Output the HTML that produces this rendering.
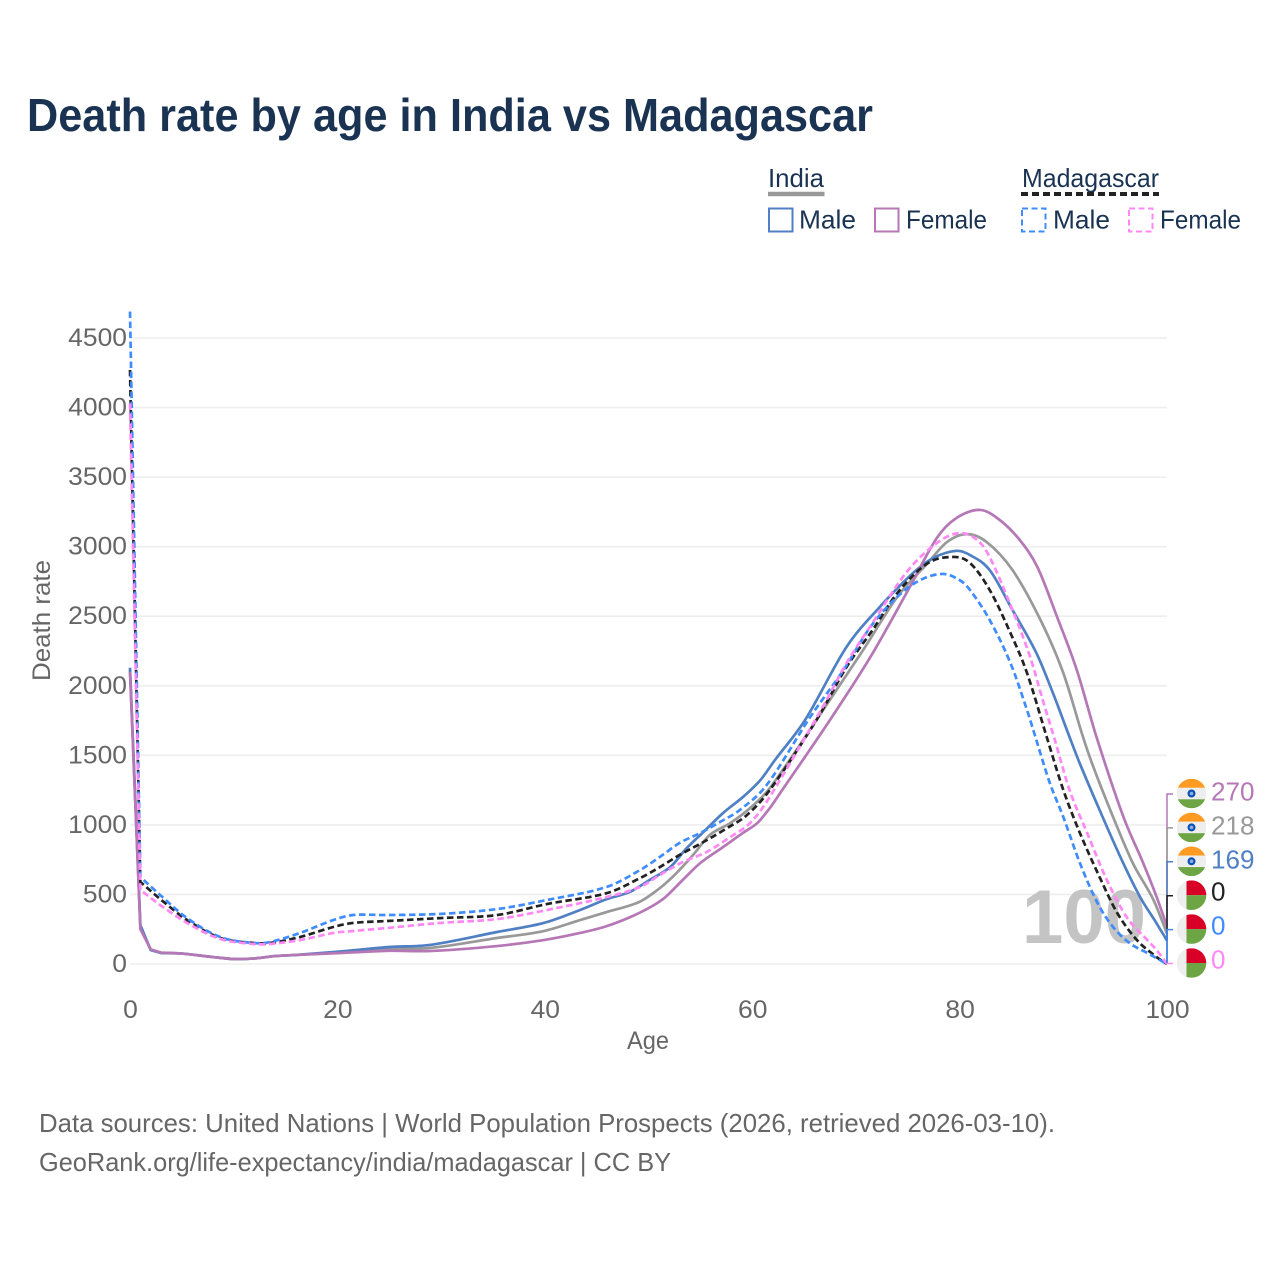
<!DOCTYPE html>
<html lang="en">
<head>
<meta charset="utf-8">
<title>Death rate by age in India vs Madagascar</title>
<style>
html,body{margin:0;padding:0;background:#fff;}
svg{display:block;font-family:"Liberation Sans",sans-serif;}
</style>
</head>
<body>
<svg id="chart" xmlns="http://www.w3.org/2000/svg" width="1280" height="1280" viewBox="0 0 1280 1280">
  <rect x="0" y="0" width="1280" height="1280" fill="#ffffff"/>
  <text x="27" y="131" font-size="46" font-weight="700" fill="#1a3353" textLength="846" lengthAdjust="spacingAndGlyphs">Death rate by age in India vs Madagascar</text>

  <g font-size="26" fill="#1a3353">
    <text x="768" y="187" textLength="56" lengthAdjust="spacingAndGlyphs">India</text>
    <line x1="768" x2="824.5" y1="194" y2="194" stroke="#999999" stroke-width="4.5"/>
    <text x="1022" y="187" textLength="137" lengthAdjust="spacingAndGlyphs">Madagascar</text>
    <line x1="1021" x2="1159" y1="194" y2="194" stroke="#222222" stroke-width="4" stroke-dasharray="7 4"/>
    <rect x="769" y="208.5" width="23.5" height="23" fill="none" stroke="#5080c4" stroke-width="2"/>
    <text x="799" y="228.5" textLength="57" lengthAdjust="spacingAndGlyphs">Male</text>
    <rect x="875" y="208.5" width="23.5" height="23" fill="none" stroke="#b577b5" stroke-width="2"/>
    <text x="906" y="228.5" textLength="81" lengthAdjust="spacingAndGlyphs">Female</text>
    <rect x="1022" y="208.5" width="23.5" height="23" fill="none" stroke="#3f8cff" stroke-width="2" stroke-dasharray="6 3.5"/>
    <text x="1053" y="228.5" textLength="57" lengthAdjust="spacingAndGlyphs">Male</text>
    <rect x="1129" y="208.5" width="23.5" height="23" fill="none" stroke="#ff88f5" stroke-width="2" stroke-dasharray="6 3.5"/>
    <text x="1160" y="228.5" textLength="81" lengthAdjust="spacingAndGlyphs">Female</text>
  </g>

  <g id="grid"></g>
  <g id="yticks"></g>
  <g id="xticks"></g>
  <text x="648" y="1049" font-size="25" fill="#666666" text-anchor="middle" textLength="42" lengthAdjust="spacingAndGlyphs">Age</text>
  <text transform="translate(50 620.5) rotate(-90)" font-size="25" fill="#666666" text-anchor="middle" textLength="121" lengthAdjust="spacingAndGlyphs">Death rate</text>
  <text x="1022" y="943" font-size="76" font-weight="700" fill="#c4c4c4" textLength="124" lengthAdjust="spacingAndGlyphs">100</text>

  <g id="series"></g>
  <g id="connectors"></g>
  <g id="endlabels"></g>

  <g font-size="26" fill="#666666">
    <text x="39" y="1132" textLength="1016" lengthAdjust="spacingAndGlyphs">Data sources: United Nations | World Population Prospects (2026, retrieved 2026-03-10).</text>
    <text x="39" y="1171" textLength="632" lengthAdjust="spacingAndGlyphs">GeoRank.org/life-expectancy/india/madagascar | CC BY</text>
  </g>
</svg>
<script>
var yTickLabels = [0, 500, 1000, 1500, 2000, 2500, 3000, 3500, 4000, 4500];
var xTickLabels = [0, 20, 40, 60, 80, 100];

var indiaBothAges = [0,1,2,3,5,8,10,12,14,16,20,25,28.9,35.4,39.9,43.4,46,49.1,51.1,52.7,54.3,55.9,57.9,59.8,61.7,66.2,70.7,74,76.9,78.8,80.7,82.6,85.1,87.8,90,91.9,92.9,94.8,96.7,98.7,100];
var indiaBothValues = [2115,265,100,79,75,50,36,40,57,65,82,108,115,187,237,316,374,446,546,654,784,927,1014,1121,1265,1754,2257,2640,2880,3034,3090,3034,2832,2473,2092,1632,1416,1057,726,460,218];

var indiaMaleAges = [0,1,2,3,5,8,10,12,14,16,20,25,28.9,35.4,39.9,43.4,46,48.2,50.1,52.1,53.7,55.3,57.2,59.1,60.8,62.2,65.1,69.1,72.3,75.5,77.5,79.7,81,82.9,85.1,87.4,89,90.6,91.6,93.5,95.5,97.4,98.8,100];
var indiaMaleValues = [2130,280,100,79,75,50,36,40,57,65,88,122,137,230,295,388,467,518,604,697,834,949,1086,1200,1323,1467,1754,2280,2566,2810,2920,2970,2940,2832,2545,2236,1948,1632,1440,1107,770,482,316,169];

var indiaFemaleAges = [0,1,2,3,5,8,10,12,14,16,20,25,28.9,35.4,39.9,43.4,46,49.1,51.4,53.3,55,57.2,59.1,60.5,61.7,62.7,67.5,71.4,75.2,77.8,79.7,82,83.9,85.8,87.5,89.4,91.3,93.2,95.8,97.7,99,100];
var indiaFemaleValues = [2100,250,105,82,75,50,36,40,57,65,78,95,93,129,172,223,273,367,467,604,726,841,942,1014,1121,1229,1754,2207,2710,3062,3206,3264,3190,3048,2854,2495,2114,1632,1057,726,482,270];

var madagascarBothAges = [0,1,2.9,5.5,8.7,11.9,13.5,16.4,19.6,21.5,24.8,29.9,35.4,40.2,46,49.2,51.1,53,55.3,57.6,59.5,61.7,66.2,69.1,71.6,74,76.9,79.4,81,82.9,84.9,86.5,88.4,90,91.6,93.5,95.2,97.1,99,100];
var madagascarBothValues = [4270,590,467,316,187,151,151,194,266,295,309,330,352,431,510,618,697,784,877,978,1071,1251,1754,2135,2400,2667,2880,2926,2883,2689,2380,2092,1632,1251,942,625,367,172,50,0];

var madagascarMaleAges = [0,1,2.9,5.5,8.7,11.9,13.5,16.4,19.6,21.5,24.8,29.9,35.4,40.2,46,49.2,51.1,53,55,56.9,58.8,61.4,65.6,68.8,71.4,74,76.2,78.4,80,81,82.9,84.9,86.5,87.4,88.7,90,91.6,93.3,94.8,96.4,98.1,100];
var madagascarMaleValues = [4690,625,496,330,194,151,158,223,316,352,352,360,395,460,555,676,770,870,942,1021,1107,1287,1776,2113,2423,2640,2760,2804,2760,2689,2473,2164,1826,1610,1301,1057,726,438,266,150,79,0];

var madagascarFemaleAges = [0,1,2.9,5.5,8.7,11.9,13.5,16.4,19.6,21.5,24.8,29.9,35.4,40.2,46,49.2,51.1,53.3,55.6,57.9,59.8,61.5,66.8,69.1,71.6,74.9,77.8,80,81.7,82.9,85.1,86.8,88.1,89.1,90.6,92.3,94.2,96.1,98.1,99,100];
var madagascarFemaleValues = [4030,532,424,295,180,144,144,172,223,237,259,295,323,388,482,554,640,733,805,913,1014,1179,1848,2164,2451,2818,3026,3098,3048,2926,2545,2207,1876,1632,1251,942,604,338,172,100,0];

var endLabelValues = [270, 218, 169, 0, 0, 0];

var NS = 'http://www.w3.org/2000/svg';
function xScale(a) { return 130 + a * 10.37; }
function yScale(v) { return 964 - v * 0.13911; }
function make(tag, parent) {
  var el = document.createElementNS(NS, tag);
  parent.appendChild(el);
  return el;
}

/* straight through the infant spike, smooth cubic for later ages */
function curvePath(ages, values) {
  var n = ages.length, px = [], py = [], m = [], i;
  for (i = 0; i < n; i++) { px.push(xScale(ages[i])); py.push(yScale(values[i])); }
  for (i = 0; i < n; i++) {
    if (i === 0 || ages[i] <= 3) {
      m.push((py[i + 1] - py[i]) / (px[i + 1] - px[i]));
    } else if (i === n - 1) {
      m.push((py[i] - py[i - 1]) / (px[i] - px[i - 1]));
    } else {
      m.push((py[i + 1] - py[i - 1]) / (px[i + 1] - px[i - 1]));
    }
  }
  var path = 'M' + px[0].toFixed(2) + ' ' + py[0].toFixed(2);
  for (i = 0; i < n - 1; i++) {
    if (ages[i + 1] <= 3) {
      path += 'L' + px[i + 1].toFixed(2) + ' ' + py[i + 1].toFixed(2);
      continue;
    }
    var h = (px[i + 1] - px[i]) / 3;
    path += 'C' + (px[i] + h).toFixed(2) + ' ' + (py[i] + m[i] * h).toFixed(2) + ' ' +
      (px[i + 1] - h).toFixed(2) + ' ' + (py[i + 1] - m[i + 1] * h).toFixed(2) + ' ' +
      px[i + 1].toFixed(2) + ' ' + py[i + 1].toFixed(2);
  }
  return path;
}

var gridGroup = document.getElementById('grid');
var yTickGroup = document.getElementById('yticks');
yTickLabels.forEach(function (v) {
  var line = make('line', gridGroup);
  
  
  line.setAttribute('x1', 130);
  line.setAttribute('x2', 1167);
  line.setAttribute('y1', yScale(v));
  line.setAttribute('y2', yScale(v));
  line.setAttribute('stroke', '#eeeeee');
  line.setAttribute('stroke-width', 1.6);
  var t = make('text', yTickGroup);
  
  
  t.setAttribute('x', 127);
  t.setAttribute('y', yScale(v) + 8);
  t.setAttribute('font-size', 25);
  t.setAttribute('fill', '#666666');
  t.setAttribute('text-anchor', 'end');
  t.setAttribute('textLength', String(v).length * 14.7);
  t.setAttribute('lengthAdjust', 'spacingAndGlyphs');
  t.textContent = v;
});

var xTickGroup = document.getElementById('xticks');
xTickLabels.forEach(function (a) {
  var t = make('text', xTickGroup);
  
  
  t.setAttribute('x', xScale(a) + 0.5);
  t.setAttribute('y', 1018);
  t.setAttribute('font-size', 25);
  t.setAttribute('fill', '#666666');
  t.setAttribute('text-anchor', 'middle');
  t.setAttribute('textLength', String(a).length * 14.7);
  t.setAttribute('lengthAdjust', 'spacingAndGlyphs');
  t.textContent = a;
});

var seriesGroup = document.getElementById('series');
function drawSeries(name, ages, values, color, width, dash) {
  var p = make('path', seriesGroup);
  
  
  p.setAttribute('d', curvePath(ages, values));
  p.setAttribute('fill', 'none');
  p.setAttribute('stroke', color);
  p.setAttribute('stroke-width', width);
  p.setAttribute('stroke-linejoin', 'round');
  if (dash) { p.setAttribute('stroke-dasharray', dash); }
}
drawSeries('line-india-both', indiaBothAges, indiaBothValues, '#999999', 2.7, '');
drawSeries('line-india-male', indiaMaleAges, indiaMaleValues, '#5080c4', 2.7, '');
drawSeries('line-india-female', indiaFemaleAges, indiaFemaleValues, '#b577b5', 2.7, '');
drawSeries('line-madagascar-both', madagascarBothAges, madagascarBothValues, '#222222', 2.7, '6.5 3.5');
drawSeries('line-madagascar-male', madagascarMaleAges, madagascarMaleValues, '#3f8cff', 2.7, '6.5 3.5');
drawSeries('line-madagascar-female', madagascarFemaleAges, madagascarFemaleValues, '#ff88f5', 2.7, '6.5 3.5');

var connectorGroup = document.getElementById('connectors');
var labelGroup = document.getElementById('endlabels');
var endColors = ['#b577b5', '#999999', '#5080c4', '#222222', '#3f8cff', '#ff88f5'];
var endCountries = ['india', 'india', 'india', 'madagascar', 'madagascar', 'madagascar'];
var defs = make('defs', labelGroup);

endLabelValues.forEach(function (v, i) {
  var rowY = 794 + i * 33.9;
  var textY = [800.5, 834.5, 868.5, 900.5, 934.5, 968.5][i];
  var endX = xScale(100);
  var conn = make('path', connectorGroup);
  
  
  conn.setAttribute('d', 'M' + endX + ' ' + yScale(v) + 'V' + rowY + 'H1173');
  conn.setAttribute('fill', 'none');
  conn.setAttribute('stroke', endColors[i]);
  conn.setAttribute('stroke-width', 1.5);

  var cx = 1191.5, cy = rowY - 0.5, r = 14.8;
  var clip = make('clipPath', defs);
  clip.setAttribute('id', 'flag-clip-' + i);
  var cc = make('circle', clip);
  cc.setAttribute('cx', cx);
  cc.setAttribute('cy', cy);
  cc.setAttribute('r', r);

  var flag = make('g', labelGroup);
  
  
  flag.setAttribute('clip-path', 'url(#flag-clip-' + i + ')');
  function rect(x, y, w, h, fill) {
    var q = make('rect', flag);
    q.setAttribute('x', x);
    q.setAttribute('y', y);
    q.setAttribute('width', w);
    q.setAttribute('height', h);
    q.setAttribute('fill', fill);
  }
  rect(cx - r, cy - r, 2 * r, 2 * r, '#eeeeee');
  if (endCountries[i] === 'india') {
    rect(cx - r, cy - r, 2 * r, 9, '#ff9a22');
    rect(cx - r, cy + r - 9, 2 * r, 9, '#6da544');
    var wheel = make('circle', flag);
    wheel.setAttribute('cx', cx);
    wheel.setAttribute('cy', cy);
    wheel.setAttribute('r', 4);
    wheel.setAttribute('fill', '#0a50b4');
    var hub = make('circle', flag);
    hub.setAttribute('cx', cx);
    hub.setAttribute('cy', cy);
    hub.setAttribute('r', 1.8);
    hub.setAttribute('fill', '#8fb0e0');
  } else {
    rect(cx - 5, cy - r, 2 * r, r, '#d80027');
    rect(cx - 5, cy, 2 * r, r, '#6da544');
  }

  var label = make('text', labelGroup);
  
  
  label.setAttribute('x', 1211);
  label.setAttribute('y', textY);
  label.setAttribute('font-size', 26);
  label.setAttribute('fill', endColors[i]);
  label.setAttribute('textLength', String(v).length * 14.5);
  label.setAttribute('lengthAdjust', 'spacingAndGlyphs');
  label.textContent = v;
});
</script>
</body>
</html>
